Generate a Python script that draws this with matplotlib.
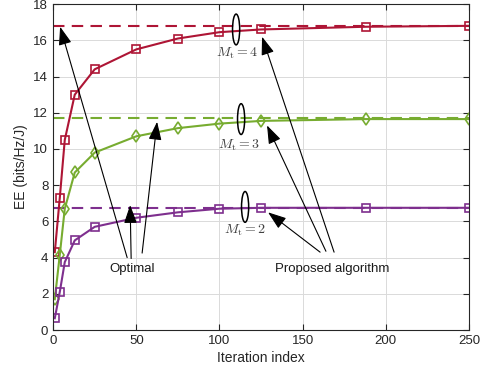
import numpy as np
import matplotlib
matplotlib.use('Agg')
import matplotlib.pyplot as plt
from matplotlib.patches import Ellipse

plt.rcParams['font.family'] = ['Liberation Sans', 'DejaVu Sans']
plt.rcParams['mathtext.fontset'] = 'cm'

# iteration indices where markers are drawn
iters = [1, 4, 7, 13, 25, 50, 75, 100, 125, 188, 250]

ee_mt4 = [4.3, 7.3, 10.5, 13.0, 14.4, 15.5, 16.1, 16.45, 16.6, 16.75, 16.8]
ee_mt3 = [1.7, 4.15, 6.7, 8.7, 9.8, 10.7, 11.15, 11.4, 11.55, 11.65, 11.65]
ee_mt2 = [0.65, 2.1, 3.75, 4.95, 5.7, 6.2, 6.5, 6.7, 6.75, 6.75, 6.75]

opt_mt4 = 16.8
opt_mt3 = 11.7
opt_mt2 = 6.75

red = '#AE1535'
green = '#77AC30'
purple = '#7E2F8E'

fig = plt.figure(figsize=(4.83, 3.74), dpi=100)
ax = fig.add_axes([0.11, 0.1176, 0.861, 0.8714])

xr = [0, 250]
ax.plot(xr, [opt_mt4, opt_mt4], '--', c=red, lw=1.5, dashes=(5.5, 3.5))
ax.plot(xr, [opt_mt3, opt_mt3], '--', c=green, lw=1.5, dashes=(5.5, 3.5))
ax.plot(xr, [opt_mt2, opt_mt2], '--', c=purple, lw=1.5, dashes=(5.5, 3.5))

ax.plot(iters, ee_mt4, '-s', c=red, lw=1.5, ms=5.5, mfc='none', mew=1.2)
ax.plot(iters, ee_mt3, '-d', c=green, lw=1.5, ms=6.5, mfc='none', mew=1.2)
ax.plot(iters, ee_mt2, '-s', c=purple, lw=1.5, ms=5.5, mfc='none', mew=1.2)

# ellipses + labels
for cx, cy, lab, lx, ly in [(110, 16.6, '$M_{\\rm t} = 4$', 110.6, 15.3),
                            (113, 11.65, '$M_{\\rm t} = 3$', 111.8, 10.2),
                            (115.4, 6.8, '$M_{\\rm t} = 2$', 115.4, 5.5)]:
    ax.add_patch(Ellipse((cx, cy), 4.3, 1.7, fill=False, ec='k', lw=1.1, zorder=5))
    ax.text(lx, ly, lab, ha='center', va='center', fontsize=10, color='#404040')

aprops = dict(arrowstyle='-|>,head_length=0.7,head_width=0.25', color='k', lw=0.8,
              mutation_scale=16, shrinkA=0, shrinkB=0)

# Optimal arrows
ax.annotate('', xy=(4.2, 16.75), xytext=(44.5, 4.0), arrowprops=aprops)
ax.annotate('', xy=(46.3, 6.9), xytext=(46.9, 3.95), arrowprops=aprops)
ax.annotate('', xy=(62.5, 11.5), xytext=(53.5, 4.25), arrowprops=aprops)
ax.text(47.5, 3.35, 'Optimal', ha='center', va='center', fontsize=9.5, color='#1a1a1a')

# Proposed algorithm arrows
ax.annotate('', xy=(125.6, 16.2), xytext=(168.9, 4.3), arrowprops=aprops)
ax.annotate('', xy=(128.6, 11.3), xytext=(164, 4.35), arrowprops=aprops)
ax.annotate('', xy=(129.2, 6.5), xytext=(160.5, 4.3), arrowprops=aprops)
ax.text(167.7, 3.35, 'Proposed algorithm', ha='center', va='center', fontsize=9.5, color='#1a1a1a')

ax.set_xlim(0, 250)
ax.set_ylim(0, 18)
ax.set_xticks(np.arange(0, 251, 50))
ax.set_yticks(np.arange(0, 19, 2))
ax.grid(True, color='#dadada', lw=0.7)
ax.set_axisbelow(True)
ax.tick_params(direction='in', top=True, right=True, labelsize=9.5,
               colors='#262626', length=4, width=0.8)
for s in ax.spines.values():
    s.set_color('#262626')
    s.set_linewidth(0.8)
ax.set_xlabel('Iteration index', fontsize=10, color='#262626', labelpad=3)
ax.set_ylabel('EE (bits/Hz/J)', fontsize=10, color='#262626', labelpad=4)

fig.savefig('out.png', dpi=100)
